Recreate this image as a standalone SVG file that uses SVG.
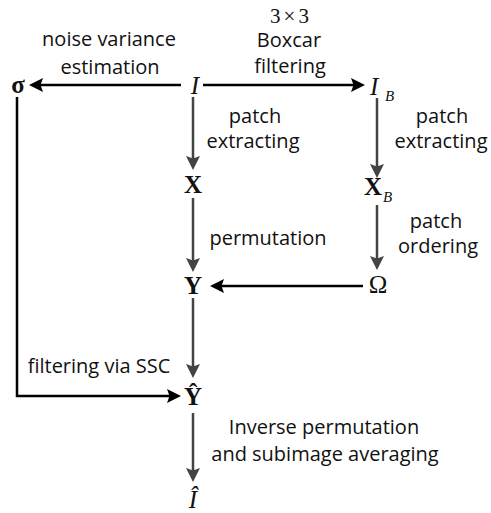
<svg xmlns="http://www.w3.org/2000/svg" width="491" height="513" viewBox="0 0 491 513">
  <style>
    .lbl { font-family: "Open Sans", "Liberation Sans", sans-serif; font-size: 20px; fill: #111; text-anchor: middle; }
    .sym { font-family: "Liberation Serif", "Times New Roman", serif; font-size: 25px; fill: #111; }
    .num { font-family: "Liberation Serif", "Times New Roman", serif; font-size: 21px; fill: #111; text-anchor: middle; letter-spacing: 3px; }
    .bold { font-weight: bold; }
    .it { font-style: italic; }
    .sub { font-size: 15px; font-style: italic; }
    .k { fill: none; stroke: #000; stroke-width: 2.5; marker-end: url(#headK); }
    .g { fill: none; stroke: #444; stroke-width: 2.5; marker-end: url(#headG); }
  </style>
  <defs>
    <marker id="headK" viewBox="0 0 14 14" refX="4" refY="7" markerWidth="14" markerHeight="14" markerUnits="userSpaceOnUse" orient="auto">
      <path d="M0,0 L14,7 L0,14 L2.5,7 z" fill="#000"/>
    </marker>
    <marker id="headG" viewBox="0 0 14 14" refX="4" refY="7" markerWidth="14" markerHeight="14" markerUnits="userSpaceOnUse" orient="auto">
      <path d="M0,0 L14,7 L0,14 L2.5,7 z" fill="#444"/>
    </marker>
  </defs>

  <!-- connectors -->
  <g id="connectors">
    <path class="k" d="M181,85 H39"/>
    <path class="k" d="M203,85 H355"/>
    <path class="g" d="M193,97 V160"/>
    <path class="g" d="M377,98 V168"/>
    <path class="g" d="M193,198 V262"/>
    <path class="g" d="M377,205 V260"/>
    <path class="k" d="M363,286 H220"/>
    <path class="g" d="M193,298 V368"/>
    <path class="k" d="M17,97 V396 H171"/>
    <path class="g" d="M193,413 V472"/>
  </g>

  <!-- edge labels -->
  <g id="labels">
    <text class="lbl" x="109" y="46">noise variance</text>
    <text class="lbl" x="110" y="74">estimation</text>
    <text class="num" x="291" y="23">3×3</text>
    <text class="lbl" x="289" y="47">Boxcar</text>
    <text class="lbl" x="290" y="73">filtering</text>
    <text class="lbl" x="255" y="123">patch</text>
    <text class="lbl" x="253" y="148">extracting</text>
    <text class="lbl" x="442" y="123">patch</text>
    <text class="lbl" x="441" y="148">extracting</text>
    <text class="lbl" x="436" y="228">patch</text>
    <text class="lbl" x="438" y="253">ordering</text>
    <text class="lbl" x="268" y="245">permutation</text>
    <text class="lbl" x="99" y="373">filtering via SSC</text>
    <text class="lbl" x="324" y="434">Inverse permutation</text>
    <text class="lbl" x="325" y="461">and subimage averaging</text>
  </g>

  <!-- nodes -->
  <g id="node-sigma"><text class="sym bold" x="18" y="93" text-anchor="middle">σ</text></g>
  <g id="node-I"><text class="sym it" x="195" y="94" text-anchor="middle">I</text></g>
  <g id="node-IB"><text class="sym it" x="370" y="95">I</text><text class="sym sub" x="385" y="101">B</text></g>
  <g id="node-X"><text class="sym bold" x="193" y="193" text-anchor="middle">X</text></g>
  <g id="node-XB"><text class="sym bold" x="364" y="195">X</text><text class="sym sub" x="383" y="202">B</text></g>
  <g id="node-Y"><text class="sym bold" x="193" y="294" text-anchor="middle">Y</text></g>
  <g id="node-Omega"><text class="sym" x="378" y="293" text-anchor="middle">Ω</text></g>
  <g id="node-Yhat"><text class="sym bold" x="193" y="405" text-anchor="middle">Ŷ</text></g>
  <g id="node-Ihat"><text class="sym it" x="193" y="508" text-anchor="middle">Î</text></g>
</svg>
